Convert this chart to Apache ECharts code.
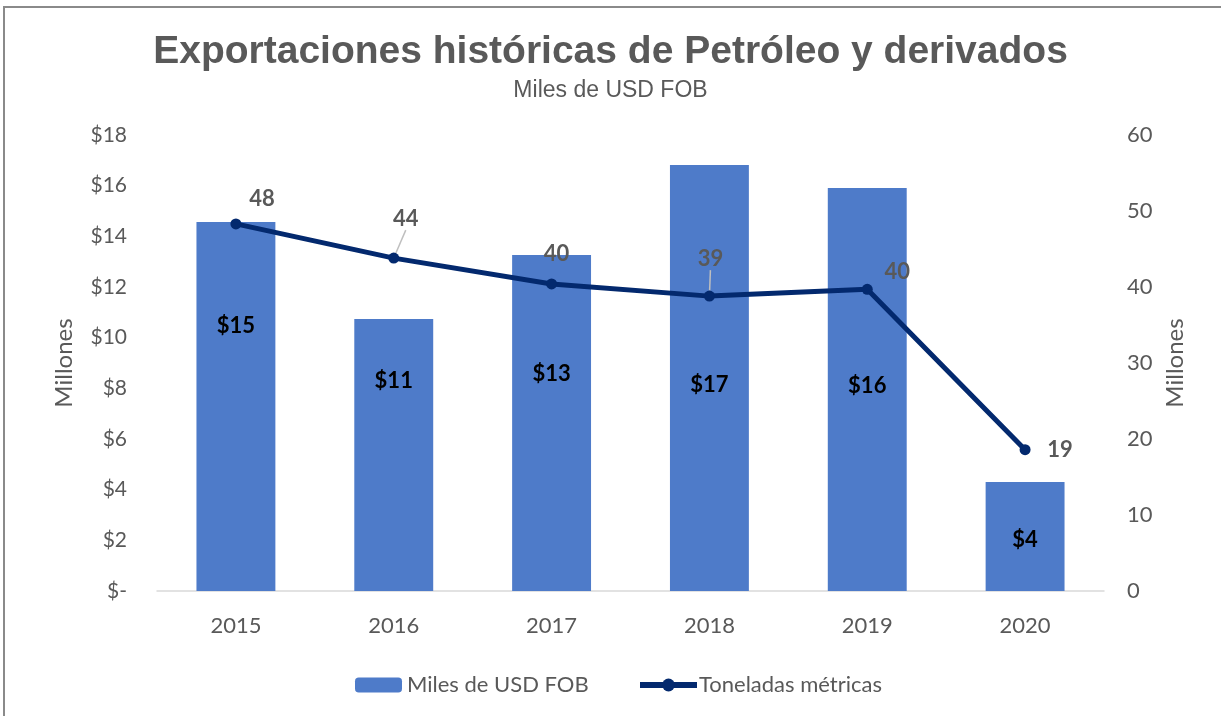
<!DOCTYPE html>
<html>
<head>
<meta charset="utf-8">
<script src="https://cdn.jsdelivr.net/npm/echarts@6/dist/echarts.min.js"></script>
<style>
html,body{margin:0;padding:0;background:#fff;}
#chart{width:1221px;height:716px;}
</style>
</head>
<body>
<div id="chart"></div>
<script>
const categories = ['2015', '2016', '2017', '2018', '2019', '2020'];
const usdFob = [14.57, 10.74, 13.26, 16.82, 15.91, 4.3];          // Millones USD
const toneladas = [48.3, 43.8, 40.4, 38.8, 39.7, 18.6];          // Millones t
const leftTicks = { min: 0, max: 18, interval: 2 };
const rightTicks = { min: 0, max: 60, interval: 10 };

// label styling offsets (pixels), not data
const barLabelOffsets = [-81, -74, -49, 7, -4, 3];
const lineLabelOffsets = [[26, -25], [12, -39], [5, -30], [1, -37], [30, -17], [35, 0]];
const lineLabelLeader = [false, true, false, true, false, false];

const chart = echarts.init(document.getElementById('chart'));
const gray = '#595959';
const baseFont = 'Lato, "Open Sans", sans-serif';
const navy = '#03296e';

chart.setOption({
  animation: false,
  graphic: [{
    type: 'rect', silent: true,
    shape: { x: 4, y: 7, width: 1400, height: 900 },
    style: { fill: 'none', stroke: '#8a8a8a', lineWidth: 2 }
  }],
  title: [{
    text: 'Exportaciones históricas de Petróleo y derivados',
    left: 'center', top: 28,
    textStyle: { fontFamily: '"Liberation Sans", Arial, sans-serif', fontWeight: 'bold', fontSize: 39, color: gray }
  }, {
    text: 'Miles de USD FOB',
    left: 'center', top: 74,
    textStyle: { fontFamily: '"Liberation Sans", Arial, sans-serif', fontWeight: 'normal', fontSize: 23, color: gray }
  }],
  legend: [{
    data: ['Miles de USD FOB'],
    left: 350, top: 669,
    itemWidth: 47, itemHeight: 15, itemGap: 10,
    textStyle: { fontFamily: baseFont, fontSize: 22, color: gray }
  }, {
    data: [{ name: 'Toneladas métricas' }],
    left: 632, top: 669,
    itemWidth: 57, itemHeight: 16,
    lineStyle: { width: 6, color: navy },
    textStyle: { fontFamily: baseFont, fontSize: 22, color: gray, padding: [0, 0, 0, -3] }
  }],
  grid: { left: 157, right: 117, top: 135, bottom: 125 },
  xAxis: {
    type: 'category',
    data: categories,
    axisLine: { lineStyle: { color: '#d9d9d9', width: 1.5 } },
    axisTick: { show: false },
    axisLabel: { fontFamily: baseFont, fontSize: 22, color: gray, margin: 24 }
  },
  yAxis: [{
    type: 'value',
    min: leftTicks.min, max: leftTicks.max, interval: leftTicks.interval,
    name: 'Millones', nameLocation: 'middle', nameGap: 81, nameRotate: 90,
    nameTextStyle: { fontFamily: baseFont, fontSize: 24, color: gray },
    splitLine: { show: false },
    axisLine: { show: false }, axisTick: { show: false },
    axisLabel: {
      fontFamily: baseFont, fontSize: 21, color: gray, margin: 30,
      formatter: v => v === 0 ? '$-' : '$' + v
    }
  }, {
    type: 'value', position: 'right',
    min: rightTicks.min, max: rightTicks.max, interval: rightTicks.interval,
    name: 'Millones', nameLocation: 'middle', nameGap: 59, nameRotate: 90,
    nameTextStyle: { fontFamily: baseFont, fontSize: 24, color: gray },
    splitLine: { show: false },
    axisLine: { show: false }, axisTick: { show: false },
    axisLabel: { fontFamily: baseFont, fontSize: 22, color: gray, margin: 23 }
  }],
  series: [{
    name: 'Miles de USD FOB',
    type: 'bar',
    yAxisIndex: 0,
    barWidth: '50%',
    itemStyle: { color: '#4e7bc9' },
    data: usdFob.map((v, i) => ({
      value: v,
      label: { offset: [0, barLabelOffsets[i]] }
    })),
    label: {
      show: true, position: 'inside',
      fontFamily: baseFont, fontWeight: 'bold', fontSize: 22, color: '#000',
      formatter: p => '$' + Math.round(p.value)
    }
  }, {
    name: 'Toneladas métricas',
    type: 'line',
    yAxisIndex: 1,
    data: toneladas.map((v, i) => ({
      value: v,
      labelLine: { show: lineLabelLeader[i] }
    })),
    symbol: 'circle', symbolSize: 11,
    lineStyle: { color: navy, width: 5 },
    itemStyle: { color: navy },
    label: {
      show: true, position: 'inside',
      fontFamily: baseFont, fontWeight: 'bold', fontSize: 22, color: gray,
      formatter: p => String(Math.round(p.value))
    },
    labelLine: { lineStyle: { color: '#bfbfbf', width: 1.5 } },
    labelLayout: function (p) {
      const i = p.dataIndex;
      const cx = p.rect.x + p.rect.width / 2;
      const cy = p.rect.y + p.rect.height / 2;
      const lx = cx + lineLabelOffsets[i][0];
      const ly = cy + lineLabelOffsets[i][1];
      const res = { x: lx, y: ly, align: 'center', verticalAlign: 'middle' };
      if (lineLabelLeader[i]) {
        res.labelLinePoints = [[lx - 3, ly + 14], [cx + 1, cy - 3], [cx + 1, cy - 3]];
      }
      return res;
    },
    z: 5
  }]
});
</script>
</body>
</html>
